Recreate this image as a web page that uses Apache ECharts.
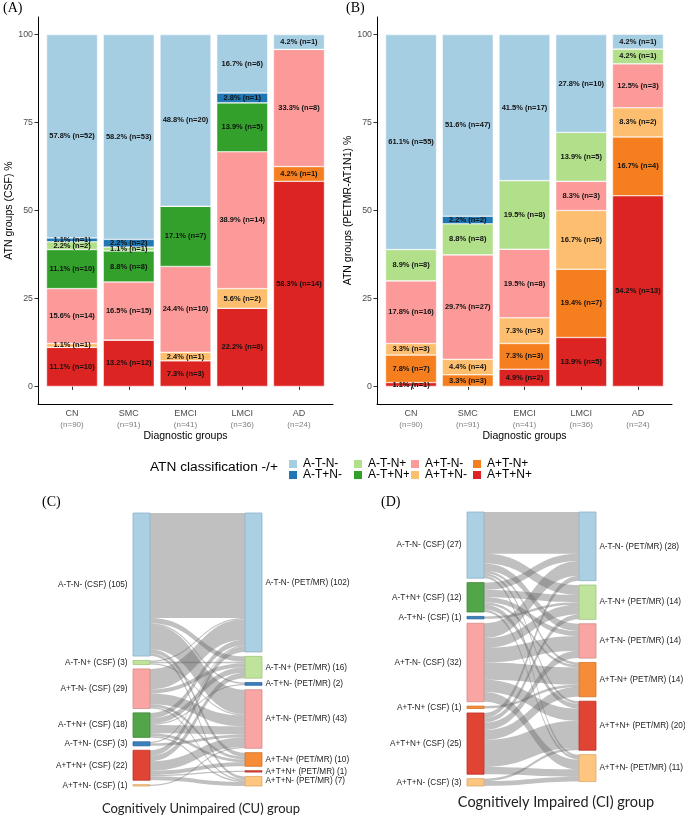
<!DOCTYPE html>
<html>
<head>
<meta charset="utf-8">
<script src="https://cdn.jsdelivr.net/npm/echarts@6/dist/echarts.min.js"></script>
<style>
html,body{margin:0;padding:0;background:#fff;}
#chart{width:685px;height:816px;}
</style>
</head>
<body>
<div id="chart"></div>
<script>
// ---------- DATA ----------
const categories = ['CN', 'SMC', 'EMCI', 'LMCI', 'AD'];
const groupN = [90, 91, 41, 36, 24];
const atnClasses = ['A-T-N-', 'A-T+N-', 'A-T-N+', 'A-T+N+', 'A+T-N-', 'A+T+N-', 'A+T-N+', 'A+T+N+'];

// Panel A: CSF-based ATN (% and n), rows follow atnClasses
const csfPct = [
  [57.8, 58.2, 48.8, 16.7, 4.2],
  [1.1, 2.2, 0, 2.8, 0],
  [2.2, 1.1, 0, 0, 0],
  [11.1, 8.8, 17.1, 13.9, 0],
  [15.6, 16.5, 24.4, 38.9, 33.3],
  [1.1, 0, 2.4, 5.6, 0],
  [0, 0, 0, 0, 4.2],
  [11.1, 13.2, 7.3, 22.2, 58.3]
];
const csfN = [
  [52, 53, 20, 6, 1],
  [1, 2, 0, 1, 0],
  [2, 1, 0, 0, 0],
  [10, 8, 7, 5, 0],
  [14, 15, 10, 14, 8],
  [1, 0, 1, 2, 0],
  [0, 0, 0, 0, 1],
  [10, 12, 3, 8, 14]
];
// Panel B: PET/MR-based ATN
const petPct = [
  [61.1, 51.6, 41.5, 27.8, 4.2],
  [0, 2.2, 0, 0, 0],
  [8.9, 8.8, 19.5, 13.9, 4.2],
  [0, 0, 0, 0, 0],
  [17.8, 29.7, 19.5, 8.3, 12.5],
  [3.3, 4.4, 7.3, 16.7, 8.3],
  [7.8, 3.3, 7.3, 19.4, 16.7],
  [1.1, 0, 4.9, 13.9, 54.2]
];
const petN = [
  [55, 47, 17, 10, 1],
  [0, 2, 0, 0, 0],
  [8, 8, 8, 5, 1],
  [0, 0, 0, 0, 0],
  [16, 27, 8, 3, 3],
  [3, 4, 3, 6, 2],
  [7, 3, 3, 7, 4],
  [1, 0, 2, 5, 13]
];
const yTicks = [0, 25, 50, 75, 100];

// Panel C: CU group, CSF -> PET/MR flows (rows: cuCsfNodes, cols: cuPetNodes)
const cuCsfNodes = ['A-T-N-', 'A-T-N+', 'A+T-N-', 'A-T+N+', 'A-T+N-', 'A+T+N+', 'A+T+N-'];
const cuPetNodes = ['A-T-N-', 'A-T-N+', 'A-T+N-', 'A+T-N-', 'A+T-N+', 'A+T+N+', 'A+T+N-'];
const cuFlows = [
  [77, 4, 1, 18, 3, 0, 2],
  [1, 1, 0, 1, 0, 0, 0],
  [15, 3, 0, 8, 2, 0, 1],
  [4, 4, 1, 6, 2, 0, 1],
  [1, 0, 0, 2, 0, 0, 0],
  [4, 4, 0, 7, 3, 1, 3],
  [0, 0, 0, 1, 0, 0, 0]
];
// Panel D: CI group
const ciCsfNodes = ['A-T-N-', 'A-T+N+', 'A-T+N-', 'A+T-N-', 'A+T-N+', 'A+T+N+', 'A+T+N-'];
const ciPetNodes = ['A-T-N-', 'A-T-N+', 'A+T-N-', 'A+T-N+', 'A+T+N+', 'A+T+N-'];
const ciFlows = [
  [17, 4, 3, 1, 1, 1],
  [3, 3, 2, 1, 2, 1],
  [0, 1, 0, 0, 0, 0],
  [6, 4, 6, 7, 5, 4],
  [0, 0, 0, 1, 0, 0],
  [2, 2, 3, 4, 11, 3],
  [0, 0, 0, 0, 1, 2]
];

// ---------- STYLE ----------
const barColors = {
  'A-T-N-': '#a6cee3', 'A-T+N-': '#1f78b4', 'A-T-N+': '#b2df8a', 'A-T+N+': '#33a02c',
  'A+T-N-': '#fb9a99', 'A+T+N-': '#fdbf6f', 'A+T-N+': '#f57f1f', 'A+T+N+': '#dc2422'
};
const nodeColors = {
  'A-T-N-': ['#abd0e4', '#8db3c9'], 'A-T+N-': ['#3b7fbc', '#2e6a9f'], 'A-T-N+': ['#bfe39b', '#9fc77f'],
  'A-T+N+': ['#52a549', '#3f8a38'], 'A+T-N-': ['#f8a5a4', '#d98a89'], 'A+T+N-': ['#fdc57f', '#ddaa66'],
  'A+T-N+': ['#f68c37', '#d47428'], 'A+T+N+': ['#e04434', '#bf3426']
};
const FONT = 'Liberation Sans, Arial, sans-serif';

const chart = echarts.init(document.getElementById('chart'), null, {renderer: 'canvas'});

// axis frame (0.6 category-unit expansion on both sides like ggplot)
const frameA = {left: 38, right: 352};
const frameB = {left: 377, right: 13};
const expand = 5.67;

function frameGrid(f) { return {left: f.left, right: f.right, top: 17, bottom: 412}; }
function bandGrid(f) { return {left: f.left + expand, right: f.right + expand, top: 17, bottom: 412}; }

function frameXAxis(gridIndex) {
  return {
    type: 'value', gridIndex: gridIndex, min: 0, max: 1,
    axisLine: {show: true, onZero: false, lineStyle: {color: '#000', width: 1}},
    axisTick: {show: false}, axisLabel: {show: false}, splitLine: {show: false}
  };
}
function frameYAxis(gridIndex, name) {
  return {
    type: 'value', gridIndex: gridIndex, min: -5, max: 105,
    name: name, nameLocation: 'middle', nameGap: 13,
    nameTextStyle: {fontFamily: FONT, fontSize: 10.5, color: '#000'},
    axisLine: {show: true, onZero: false, lineStyle: {color: '#000', width: 1}},
    axisTick: {show: true, length: 3.5, customValues: yTicks, lineStyle: {color: '#333'}},
    axisLabel: {show: true, customValues: yTicks, margin: 5, fontFamily: FONT, fontSize: 8.8, color: '#4d4d4d'},
    splitLine: {show: false}
  };
}
function bandXAxis(gridIndex) {
  return {
    type: 'category', gridIndex: gridIndex, data: categories, boundaryGap: true,
    name: 'Diagnostic groups', nameLocation: 'middle', nameGap: 27,
    nameTextStyle: {fontFamily: FONT, fontSize: 10.5, color: '#000'},
    axisLine: {show: false},
    axisTick: {show: true, alignWithLabel: true, length: 3.5, lineStyle: {color: '#333'}},
    axisLabel: {
      show: true, margin: 4, interval: 0,
      formatter: function (v, i) {
        return '{a|' + v + '}\n{b|(n=' + groupN[i] + ')}';
      },
      rich: {
        a: {fontFamily: FONT, fontSize: 9, color: '#4d4d4d', lineHeight: 11},
        b: {fontFamily: FONT, fontSize: 8, color: '#7f7f7f', lineHeight: 11}
      }
    },
    splitLine: {show: false}
  };
}
function bandYAxis(gridIndex) {
  return {
    type: 'value', gridIndex: gridIndex, min: -5, max: 105, show: false,
    axisLine: {show: false, onZero: false}, axisTick: {show: false}, axisLabel: {show: false}, splitLine: {show: false}
  };
}
function makeBarSeries(axisIndex, pct, nn, stackName) {
  const out = [];
  for (let k = atnClasses.length - 1; k >= 0; k--) {
    const cls = atnClasses[k];
    out.push({
      type: 'bar', name: cls, stack: stackName,
      xAxisIndex: axisIndex, yAxisIndex: axisIndex,
      barWidth: 51,
      data: pct[k],
      itemStyle: {color: barColors[cls], borderColor: '#ffffff', borderWidth: 0.5},
      label: {
        show: true, position: 'inside',
        fontFamily: FONT, fontSize: 7.5, fontWeight: 'bold', color: '#111',
        formatter: function (p) {
          const i = p.dataIndex;
          if (!pct[k][i]) return '';
          return pct[k][i].toFixed(1) + '% (n=' + nn[k][i] + ')';
        }
      },
      emphasis: {disabled: true},
      animation: false
    });
  }
  return out;
}
function makeSankey(left, top, width, height, csfNodes, petNodes, flows) {
  const nodes = [];
  csfNodes.forEach(n => nodes.push({
    name: n + ' (CSF)',
    itemStyle: {color: nodeColors[n][0], borderColor: nodeColors[n][1], borderWidth: 0.8},
    label: {position: 'left', distance: 5}
  }));
  petNodes.forEach(n => nodes.push({
    name: n + ' (PET/MR)',
    itemStyle: {color: nodeColors[n][0], borderColor: nodeColors[n][1], borderWidth: 0.8},
    label: {position: 'right', distance: 3}
  }));
  const links = [];
  flows.forEach((row, r) => row.forEach((v, c) => {
    if (v > 0) links.push({source: csfNodes[r] + ' (CSF)', target: petNodes[c] + ' (PET/MR)', value: v});
  }));
  return {
    type: 'sankey', left: left, top: top, width: width, height: height,
    nodeWidth: 17, nodeGap: 4.4, layoutIterations: 0, draggable: false,
    orient: 'horizontal', nodeAlign: 'justify',
    data: nodes, links: links,
    label: {
      show: true, fontFamily: FONT, fontSize: 8.2, color: '#222',
      formatter: p => p.name + ' (' + p.value + ')'
    },
    lineStyle: {color: '#6a6a6a', opacity: 0.42, curveness: 0.5},
    emphasis: {disabled: true},
    animation: false
  };
}

const legendCols = [['A-T-N-', 'A-T+N-'], ['A-T-N+', 'A-T+N+'], ['A+T-N-', 'A+T+N-'], ['A+T-N+', 'A+T+N+']];
const legendLefts = [287, 352, 409, 471];

const serifTitle = {fontFamily: 'Liberation Serif, serif', fontSize: 14, fontWeight: 'normal', color: '#000'};

const option = {
  backgroundColor: '#ffffff',
  animation: false,
  textStyle: {fontFamily: FONT},
  title: [
    {text: '(A)', left: 3, top: 1, padding: 0, textStyle: serifTitle},
    {text: '(B)', left: 346, top: 1, padding: 0, textStyle: serifTitle},
    {text: '(C)', left: 42, top: 495, padding: 0, textStyle: serifTitle},
    {text: '(D)', left: 381, top: 495, padding: 0, textStyle: serifTitle},
    {text: 'ATN classification -/+', left: 150, top: 460, padding: 0, textStyle: {fontFamily: FONT, fontSize: 13.7, fontWeight: 'normal', color: '#000'}},
    {text: 'Cognitively Unimpaired (CU) group', left: 201, textAlign: 'center', top: 802, padding: 0, textStyle: {fontFamily: 'Lato, sans-serif', fontSize: 13, fontWeight: 'normal', color: '#222'}},
    {text: 'Cognitively Impaired (CI) group', left: 556, textAlign: 'center', top: 795, padding: 0, textStyle: {fontFamily: 'Lato, sans-serif', fontSize: 14.5, fontWeight: 'normal', color: '#222'}}
  ],
  legend: legendCols.map((col, j) => ({
    data: col, left: legendLefts[j], top: 458, orient: 'vertical', padding: 0,
    itemWidth: 10, itemHeight: 10, itemGap: -1, icon: 'rect', selectedMode: false,
    textStyle: {fontFamily: FONT, fontSize: 12, color: '#000'}
  })),
  grid: [frameGrid(frameA), frameGrid(frameB), bandGrid(frameA), bandGrid(frameB)],
  xAxis: [frameXAxis(0), frameXAxis(1), bandXAxis(2), bandXAxis(3)],
  yAxis: [frameYAxis(0, 'ATN groups (CSF) %'), frameYAxis(1, 'ATN groups (PETMR-AT1N1) %'), bandYAxis(2), bandYAxis(3)],
  series: [
    ...makeBarSeries(2, csfPct, csfN, 'csf'),
    ...makeBarSeries(3, petPct, petN, 'pet'),
    makeSankey(133, 513, 129, 273, cuCsfNodes, cuPetNodes, cuFlows),
    makeSankey(467, 512, 129, 274, ciCsfNodes, ciPetNodes, ciFlows)
  ]
};
chart.setOption(option);
</script>
</body>
</html>
